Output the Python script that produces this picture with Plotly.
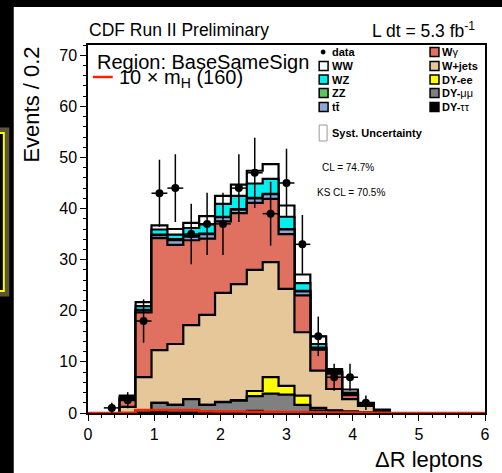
import numpy as np
import plotly.graph_objects as go

# ---------------- data (25 bins of width 0.24 from 0 to 6) ----------------
bin_edges = [round(0.24 * i, 2) for i in range(26)]

dy_tautau = [0, 0, 0, 0, 0.2, 0.1, 0.1, 0.1, 0.1, 0.2, 0.4, 0.2, 0.2, 0.1, 0.1, 0.3, 0.1, 0, 0, 0, 0, 0, 0, 0, 0]
dy_mumu   = [0, 0, 0, 0.5, 1.8, 1.5, 2.6, 1.5, 2.0, 2.2, 2.9, 3.6, 3.4, 1.5, 0.4, 0.1, 0.1, 0.1, 0, 0, 0, 0, 0, 0, 0]
dy_ee     = [0, 0, 0, 0, 0, 0, 0, 0, 0.1, 0.1, 1.0, 3.2, 1.7, 1.8, 0.5, 0.1, 0.1, 0, 0, 0, 0, 0, 0, 0, 0]
w_jets    = [0, 0, 1.2, 6.5, 10.3, 11.9, 14.5, 17.6, 21.3, 22.7, 23.7, 22.5, 19.0, 12.4, 7.3, 4.2, 2.4, 1.3, 0.4, 0, 0, 0, 0, 0, 0]
w_gamma   = [0, 0, 1.3, 12.7, 21.9, 19.4, 16.6, 14.9, 14.0, 13.9, 13.1, 12.4, 10.7, 7.2, 4.1, 3.0, 0.8, 0.1, 0.05, 0, 0, 0, 0, 0, 0]
ttbar     = [0, 0, 0.3, 0.4, 0.6, 0.9, 0.7, 0.9, 0.8, 0.7, 0.9, 0.9, 0.9, 0.8, 0.3, 0.3, 0.3, 0.1, 0.05, 0, 0, 0, 0, 0, 0]
zz        = [0, 0, 0.1, 0.1, 0.1, 0.2, 0.1, 0.1, 0.1, 0.1, 0.1, 0.1, 0.1, 0.1, 0.1, 0, 0, 0, 0, 0, 0, 0, 0, 0, 0]
wz        = [0, 0, 0.2, 0.7, 1.0, 0.9, 1.6, 1.8, 2.5, 2.6, 2.8, 2.9, 2.4, 1.5, 0.7, 0.2, 0.2, 0.1, 0.05, 0, 0, 0, 0, 0, 0]
ww        = [0, 0, 0.3, 0.8, 0.8, 1.1, 1.0, 1.6, 1.6, 2.2, 2.5, 2.9, 2.2, 1.7, 1.5, 0.4, 0.6, 0.3, 0.1, 0, 0, 0, 0, 0, 0]
signal_10x_mh160 = [0, 0, 0.05, 0.6, 0.6, 0.6, 0.6, 0.35, 0.3, 0.3, 0.25, 0.25, 0.2, 0.2, 0.15, 0.1, 0.1, 0.05, 0.05, 0, 0, 0, 0, 0, 0]
data_counts = [0, 1, 2.5, 18, 43, 44, 35, 37, 37, 44, 47, 39, 45, 33, 15, 7, 7, 2, 0, 0, 0, 0, 0, 0, 0]

x_ticks = [0, 1, 2, 3, 4, 5, 6]
y_ticks = [0, 10, 20, 30, 40, 50, 60, 70]

# stack bottom -> top
stack = [
    ("DY-ττ", dy_tautau, "#000000"),
    ("DY-μμ", dy_mumu, "#808080"),
    ("DY-ee", dy_ee, "#FFFF00"),
    ("W+jets", w_jets, "#E6C79A"),
    ("Wγ", w_gamma, "#E0705F"),
    ("tt", ttbar, "#8DA6D6"),
    ("ZZ", zz, "#5DC45D"),
    ("WZ", wz, "#00F0F0"),
    ("WW", ww, "#FFFFFF"),
]

edges = np.array(bin_edges)
centers = 0.5 * (edges[:-1] + edges[1:])
half_w = 0.5 * (edges[1] - edges[0])

cums = []
running = np.zeros(len(centers))
for name, vals, col in stack:
    running = running + np.array(vals, dtype=float)
    cums.append((name, running.copy(), col))

fig = go.Figure()

# draw cumulative histograms top -> bottom (ROOT THStack style)
for name, cum, col in reversed(cums):
    yv = list(cum) + [cum[-1]]
    fig.add_trace(go.Scatter(
        x=edges, y=yv, mode="lines", line_shape="hv",
        line=dict(color="black", width=2.2), fill="tozeroy", fillcolor=col,
        showlegend=False, hoverinfo="skip"))

# signal
sig = list(signal_10x_mh160) + [signal_10x_mh160[-1]]
fig.add_trace(go.Scatter(x=edges, y=sig, mode="lines", line_shape="hv",
                         line=dict(color="#FF2000", width=2.5), showlegend=False))

# data
d = np.array(data_counts, dtype=float)
mask = d > 0
fig.add_trace(go.Scatter(
    x=centers[mask], y=d[mask], mode="markers",
    marker=dict(color="black", size=8),
    error_y=dict(type="data", array=np.sqrt(d[mask]), color="black", thickness=1.5, width=0),
    error_x=dict(type="data", array=np.full(mask.sum(), half_w), color="black", thickness=1.5, width=0),
    showlegend=False))

W, H = 502, 473
L, R, T, B = 88, 13, 45, 60
pw, ph = W - L - R, H - T - B


def px(x):
    return (x - L) / pw


def py(y):
    return (H - B - y) / ph


FONT = "Liberation Sans, Arial, Helvetica, sans-serif"
annotations = []
shapes = []


def text(x, y, s, size, xanchor="left", yanchor="middle", angle=0):
    annotations.append(dict(x=px(x), y=py(y), xref="paper", yref="paper", text=s,
                            showarrow=False, xanchor=xanchor, yanchor=yanchor,
                            textangle=angle, font=dict(family=FONT, size=size, color="black")))


def box(x0, y0, x1, y1, fill, line="black", lw=1.5):
    shapes.append(dict(type="rect", xref="paper", yref="paper",
                       x0=px(x0), x1=px(x1), y0=py(y1), y1=py(y0),
                       fillcolor=fill, line=dict(color=line, width=lw), layer="above"))


# titles
text(87, 30, "CDF Run II Preliminary", 17.5)
text(481, 30, "L dt = 5.3 fb<sup>-1</sup>", 17.5, xanchor="right")
text(30, 45, "Events / 0.2", 22, xanchor="center", yanchor="top", angle=-90)
text(489, 459, "ΔR leptons", 22, xanchor="right")
text(95, 62, "Region: BaseSameSign", 20)
text(117, 78, "10 × m<sub>H</sub> (160)", 20)
shapes.append(dict(type="line", xref="paper", yref="paper", x0=px(93), x1=px(113),
                   y0=py(77), y1=py(77), line=dict(color="#FF2000", width=2.5), layer="above"))

# legend column 1
shapes.append(dict(type="circle", xref="paper", yref="paper",
                   x0=px(323.3), x1=px(327.7), y0=py(54.2), y1=py(49.8),
                   fillcolor="black", line=dict(color="black", width=0.5), layer="above"))
text(332, 52, "<b>data</b>", 11)
leg1 = [("<b>WW</b>", "#FFFFFF", 66), ("<b>WZ</b>", "#00F0F0", 79.5),
        ("<b>ZZ</b>", "#5DC45D", 93), ("<b>tt\u0304</b>", "#8DA6D6", 107)]
for lab, col, yy in leg1:
    box(321.5, yy - 4.5, 330.5, yy + 4.5, col)
    text(332, yy, lab, 11)
leg2 = [("<b>W</b>γ", "#E0705F", 52), ("<b>W+jets</b>", "#E6C79A", 66),
        ("<b>DY-ee</b>", "#FFFF00", 79.5), ("<b>DY-</b>μμ", "#808080", 93),
        ("<b>DY-</b>ττ", "#000000", 107)]
for lab, col, yy in leg2:
    box(433.5, yy - 4.5, 442.5, yy + 4.5, col)
    text(444, yy, lab, 11)
box(321.5, 125, 329.5, 141, "#FFFFFF", line="#999999", lw=1)
text(332, 133, "<b>Syst. Uncertainty</b>", 11)
text(322, 167, "CL = 74.7%", 10)
text(317, 192, "KS CL = 70.5%", 10)

# page decoration: black strips and yellow frame at left
shapes.append(dict(type="rect", xref="paper", yref="paper", x0=px(-5), x1=px(13),
                   y0=py(480), y1=py(-5), fillcolor="black", line=dict(width=0), layer="above"))
shapes.append(dict(type="rect", xref="paper", yref="paper", x0=px(-5), x1=px(510),
                   y0=py(7), y1=py(-5), fillcolor="black", line=dict(width=0), layer="above"))
shapes.append(dict(type="rect", xref="paper", yref="paper", x0=px(-20), x1=px(6),
                   y0=py(294), y1=py(130), fillcolor="rgba(0,0,0,0)",
                   line=dict(color="rgba(200,190,120,0.45)", width=5), layer="above"))
shapes.append(dict(type="rect", xref="paper", yref="paper", x0=px(-20), x1=px(3),
                   y0=py(291), y1=py(133), fillcolor="rgba(0,0,0,0)",
                   line=dict(color="#FFFF00", width=2), layer="above"))

axis_common = dict(showline=True, linecolor="black", linewidth=1.5, mirror=True,
                   ticks="outside", tickcolor="black", tickwidth=1.2, ticklen=6,
                   showgrid=False, zeroline=False,
                   tickfont=dict(family=FONT, size=16, color="black"))

fig.update_layout(
    width=W, height=H, margin=dict(l=L, r=R, t=T, b=B),
    paper_bgcolor="white", plot_bgcolor="white", showlegend=False,
    xaxis=dict(range=[0, 6], tickvals=x_ticks, ticktext=[str(v) for v in x_ticks],
               minor=dict(ticks="outside", dtick=0.2, ticklen=3, tickcolor="black", tickwidth=1),
               **axis_common),
    yaxis=dict(range=[0, 72], tickvals=y_ticks, ticktext=[str(v) for v in y_ticks],
               minor=dict(ticks="outside", dtick=2, ticklen=3, tickcolor="black", tickwidth=1),
               **axis_common),
    annotations=annotations, shapes=shapes,
)

fig.write_html("out.html")
